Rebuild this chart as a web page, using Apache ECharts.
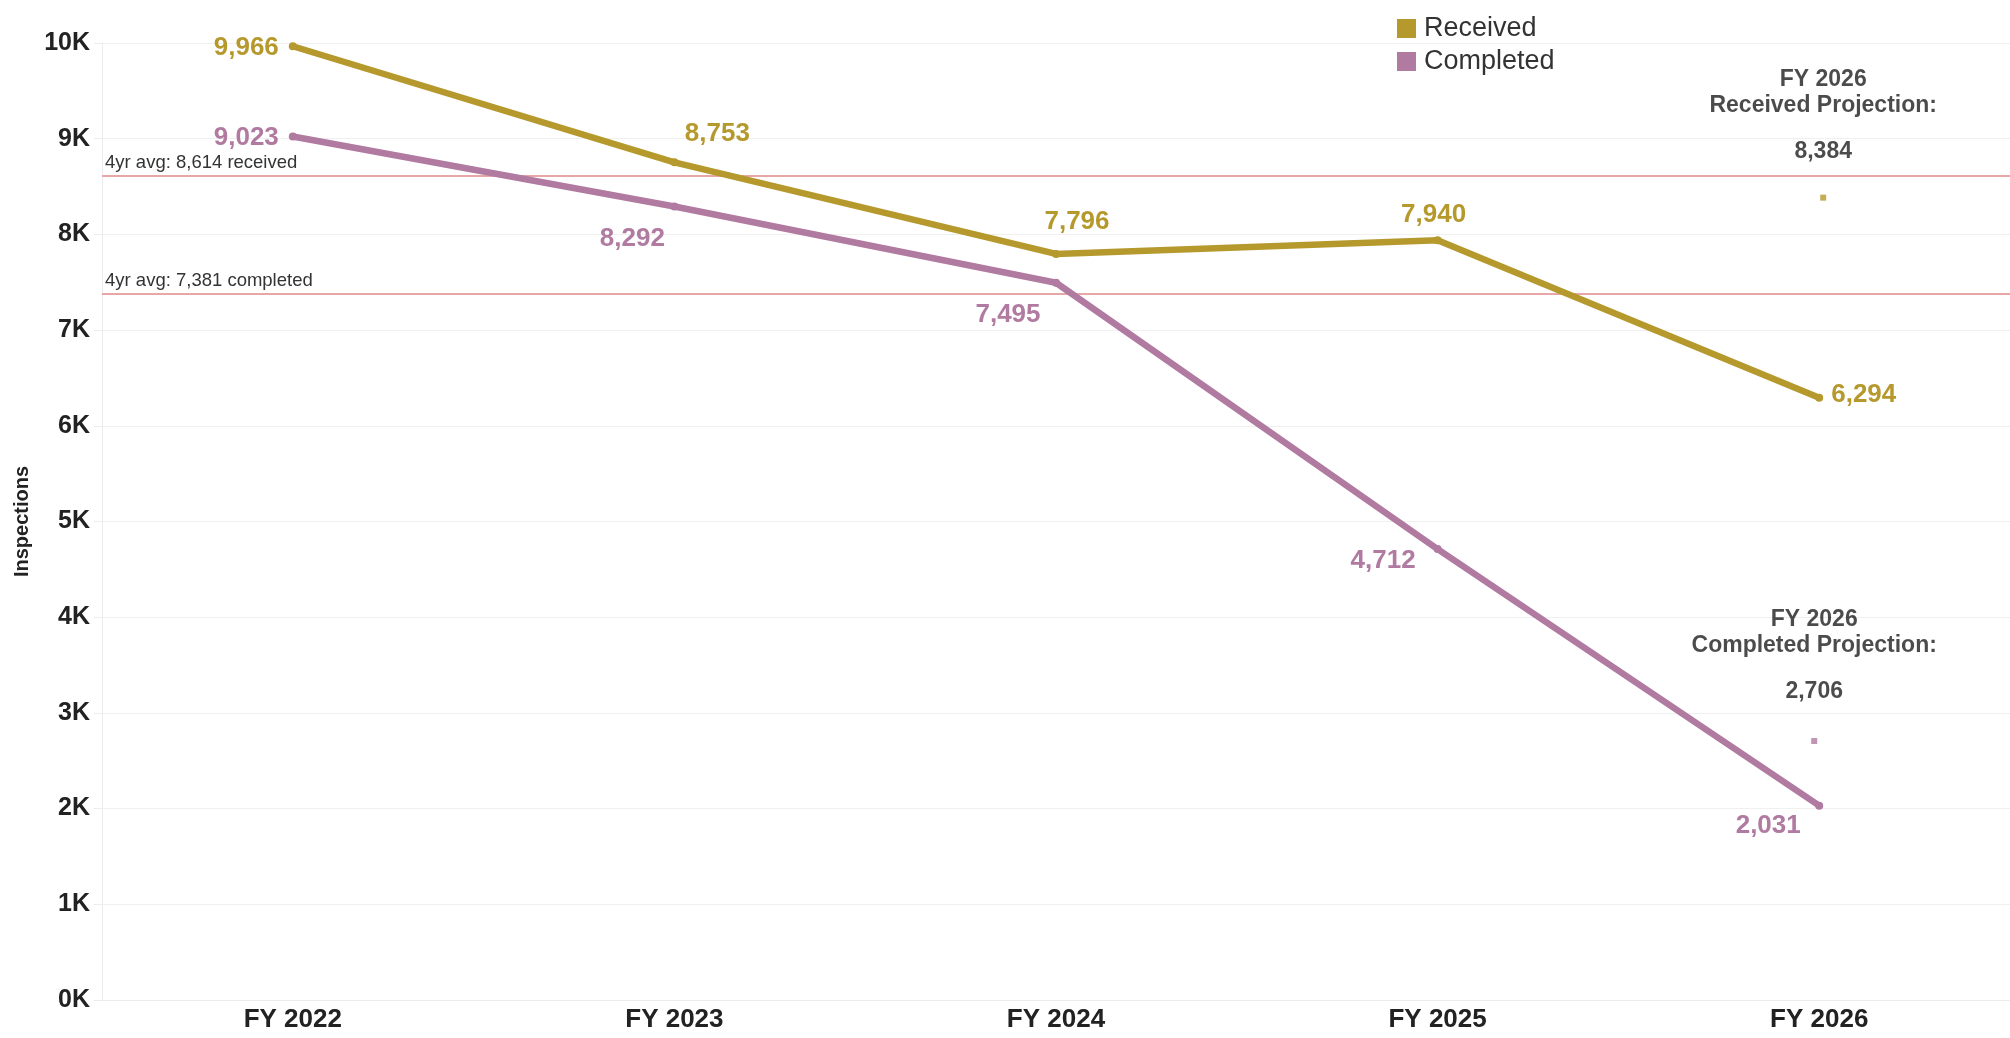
<!DOCTYPE html>
<html>
<head>
<meta charset="utf-8">
<script src="https://cdn.jsdelivr.net/npm/echarts@6/dist/echarts.min.js"></script>
<style>
  html, body { margin: 0; padding: 0; background: #fff; }
  #chart { width: 2010px; height: 1038px; }
</style>
</head>
<body>
<div id="chart"></div>
<script>
  // data
  var categories = ['FY 2022', 'FY 2023', 'FY 2024', 'FY 2025', 'FY 2026'];
  var received = [9966, 8753, 7796, 7940, 6294];
  var completed = [9023, 8292, 7495, 4712, 2031];
  var receivedProjection = 8384;
  var completedProjection = 2706;
  var avgReceived = 8614;
  var avgCompleted = 7381;
  var yTicks = [0, 1000, 2000, 3000, 4000, 5000, 6000, 7000, 8000, 9000, 10000];

  var gold = '#b6992d';
  var purple = '#b07aa1';
  var font = 'Liberation Sans, Arial, sans-serif';

  function fmt(v) { return v.toLocaleString('en-US'); }

  // label placement per point (position, distance, offset)
  var recvLabels = [
    { position: 'left', distance: 10, offset: [0, 2] },
    { position: 'top', distance: 12, offset: [43, 0] },
    { position: 'top', distance: 15, offset: [21, 0] },
    { position: 'top', distance: 8, offset: [-4, 0] },
    { position: 'right', distance: 8, offset: [0, -3] }
  ];
  var compLabels = [
    { position: 'left', distance: 10, offset: [0, 1] },
    { position: 'bottom', distance: 15, offset: [-42, 0] },
    { position: 'bottom', distance: 15, offset: [-48, 0] },
    { position: 'left', distance: 18, offset: [0, 12] },
    { position: 'bottom', distance: 3, offset: [-51, 0] }
  ];

  function pointData(values, labels, color) {
    return values.map(function (v, i) {
      return {
        value: v,
        label: Object.assign({
          show: true,
          color: color,
          fontSize: 26,
          fontWeight: 'bold',
          fontFamily: font,
          formatter: function (p) { return fmt(p.value); }
        }, labels[i])
      };
    });
  }

  function projectionLabel(title, distance) {
    return {
      show: true,
      position: 'top',
      distance: distance,
      align: 'center',
      color: '#1e1e1e',
      fontSize: 23,
      fontWeight: 'bold',
      fontFamily: font,
      formatter: function (p) {
        return '{t|FY 2026}\n{t|' + title + ' Projection:}\n{v|' + fmt(p.value[1]) + '}';
      },
      rich: {
        t: { fontSize: 23, fontWeight: 'bold', fontFamily: font, color: '#1e1e1e', lineHeight: 26, align: 'center' },
        v: { fontSize: 23, fontWeight: 'bold', fontFamily: font, color: '#1e1e1e', lineHeight: 66, align: 'center' }
      }
    };
  }

  var chart = echarts.init(document.getElementById('chart'));
  chart.setOption({
    animation: false,
    backgroundColor: '#fff',
    grid: { left: 102, top: 43, width: 1915, height: 957 },
    legend: {
      data: ['Received', 'Completed'],
      orient: 'vertical',
      left: 1397,
      top: 15,
      padding: 0,
      itemWidth: 19,
      itemHeight: 19,
      itemGap: 6,
      icon: 'rect',
      textStyle: { fontSize: 27, color: '#333', fontFamily: font, padding: [0, 0, 0, 3] }
    },
    xAxis: {
      type: 'category',
      data: categories,
      axisLine: { show: true, lineStyle: { color: '#ececec', width: 1 } },
      axisTick: { show: false },
      axisLabel: { color: '#222', fontSize: 26, fontWeight: 'bold', fontFamily: font, margin: 7 },
      splitLine: { show: false }
    },
    yAxis: {
      type: 'value',
      min: yTicks[0],
      max: yTicks[yTicks.length - 1],
      interval: 1000,
      name: 'Inspections',
      nameLocation: 'middle',
      nameGap: 70,
      nameTextStyle: { color: '#222', fontSize: 20, fontWeight: 'bold', fontFamily: font },
      axisLine: { show: true, lineStyle: { color: '#ececec', width: 1 } },
      axisTick: { show: true, length: 8, lineStyle: { color: '#ececec' } },
      axisLabel: {
        color: '#222', fontSize: 25, fontWeight: 'bold', fontFamily: font, margin: 12,
        formatter: function (v) { return (v / 1000) + 'K'; }
      },
      splitLine: { show: true, lineStyle: { color: '#f0f0f0', width: 1 } }
    },
    series: [
      {
        name: 'Received',
        type: 'line',
        color: gold,
        data: pointData(received, recvLabels, gold),
        symbol: 'circle',
        symbolSize: 8,
        lineStyle: { width: 6.5, color: gold, cap: 'round', join: 'round' },
        itemStyle: { color: gold },
        z: 3,
        markLine: {
          silent: true,
          symbol: 'none',
          lineStyle: { color: '#e8a7a7', width: 2, type: 'solid' },
          label: {
            position: 'insideStartTop',
            distance: [3, 3],
            color: '#333',
            fontSize: 18.5,
            fontFamily: font
          },
          data: [
            { yAxis: avgReceived, label: { formatter: '4yr avg: ' + fmt(avgReceived) + ' received' } },
            { yAxis: avgCompleted, label: { formatter: '4yr avg: ' + fmt(avgCompleted) + ' completed' } }
          ],
          z: 1
        }
      },
      {
        name: 'Completed',
        type: 'line',
        color: purple,
        data: pointData(completed, compLabels, purple),
        symbol: 'circle',
        symbolSize: 8,
        lineStyle: { width: 6.5, color: purple, cap: 'round', join: 'round' },
        itemStyle: { color: purple },
        z: 3
      },
      {
        name: 'Received Projection',
        type: 'scatter',
        symbol: 'rect',
        symbolSize: 6,
        symbolOffset: [4, 0],
        itemStyle: { color: gold },
        data: [[categories.length - 1, receivedProjection]],
        label: projectionLabel('Received', 10)
      },
      {
        name: 'Completed Projection',
        type: 'scatter',
        symbol: 'rect',
        symbolSize: 6,
        symbolOffset: [-5, 0],
        itemStyle: { color: purple },
        data: [[categories.length - 1, completedProjection]],
        label: projectionLabel('Completed', 13)
      }
    ]
  });
</script>
</body>
</html>
